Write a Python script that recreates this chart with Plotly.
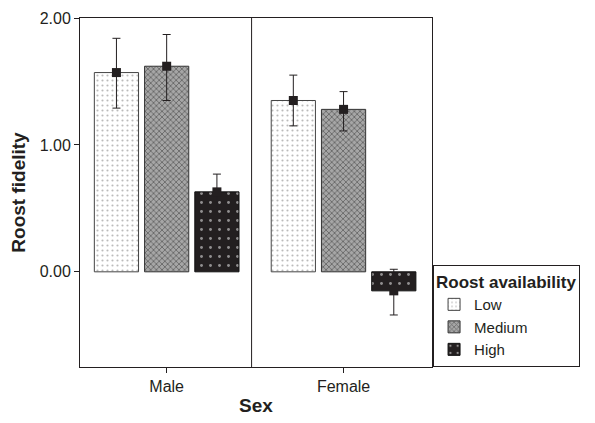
import plotly.graph_objects as go

sexes = ["Male", "Female"]
levels = ["Low", "Medium", "High"]
means = {
    "Low": [1.57, 1.35],
    "Medium": [1.62, 1.28],
    "High": [0.63, -0.15],
}
err_hi = {
    "Low": [1.84, 1.55],
    "Medium": [1.87, 1.42],
    "High": [0.77, 0.02],
}
err_lo = {
    "Low": [1.29, 1.15],
    "Medium": [1.35, 1.11],
    "High": [0.49, -0.34],
}
ytick_vals = [0, 1, 2]
ytick_text = ["0.00", "1.00", "2.00"]

patterns = {
    "Low": dict(shape=".", bgcolor="white", fgcolor="#777777", size=5, solidity=0.15),
    "Medium": dict(shape="x", bgcolor="#a6a6a6", fgcolor="#2a2a2a", size=4, solidity=0.4),
    "High": dict(shape=".", bgcolor="#231f20", fgcolor="white", size=9, solidity=0.08),
}
lines = {"Low": "#444444", "Medium": "#333333", "High": "#111111"}

FONT = "Liberation Sans, Arial, sans-serif"
BARGAP = 0.148

fig = go.Figure()
for lv in levels:
    fig.add_trace(go.Bar(
        x=sexes, y=means[lv], name=lv,
        marker=dict(pattern=patterns[lv], line=dict(color=lines[lv], width=1)),
        legendgroup=lv,
    ))
for lv in levels:
    fig.add_trace(go.Scatter(
        x=sexes, y=means[lv], mode="markers", showlegend=False, legendgroup=lv,
        marker=dict(symbol="square", size=9, color="#231f20"),
        error_y=dict(type="data", symmetric=False,
                     array=[h - m for h, m in zip(err_hi[lv], means[lv])],
                     arrayminus=[m - l for m, l in zip(means[lv], err_lo[lv])],
                     color="#231f20", thickness=1, width=4),
    ))

fig.add_shape(type="line", xref="x", yref="paper", x0=0.48, x1=0.48, y0=0, y1=1,
              line=dict(color="#231f20", width=1))

fig.update_layout(
    width=595, height=423,
    margin=dict(l=72, r=171, t=10, b=64, autoexpand=False),
    paper_bgcolor="white", plot_bgcolor="white",
    barmode="group", bargap=BARGAP, bargroupgap=0.12,
    scattermode="group", scattergap=BARGAP,
    font=dict(family=FONT, size=16, color="#231f20"),
    legend=dict(
        title=dict(text="<b>Roost availability</b>", font=dict(size=17)),
        x=1.003, xanchor="left", y=0, yanchor="bottom",
        bordercolor="#231f20", borderwidth=1, bgcolor="white",
        font=dict(size=15), itemwidth=30, tracegroupgap=0,
    ),
    xaxis=dict(
        range=[-0.49, 1.5], automargin=False,
        showline=True, linecolor="#231f20", linewidth=1, mirror=True,
        ticks="outside", ticklen=5, tickcolor="#231f20",
        title=dict(text="<b>Sex</b>", font=dict(size=19), standoff=4),
        showgrid=False, zeroline=False, tickfont=dict(size=16),
    ),
    yaxis=dict(
        range=[-0.75, 2.0], automargin=False,
        tickvals=ytick_vals, ticktext=ytick_text,
        showline=True, linecolor="#231f20", linewidth=1, mirror=True,
        ticks="outside", ticklen=5, tickcolor="#231f20",
        title=dict(text="<b>Roost fidelity</b>", font=dict(size=19), standoff=10),
        showgrid=False, zeroline=False, tickfont=dict(size=16),
    ),
)

fig.write_html("out.html")
